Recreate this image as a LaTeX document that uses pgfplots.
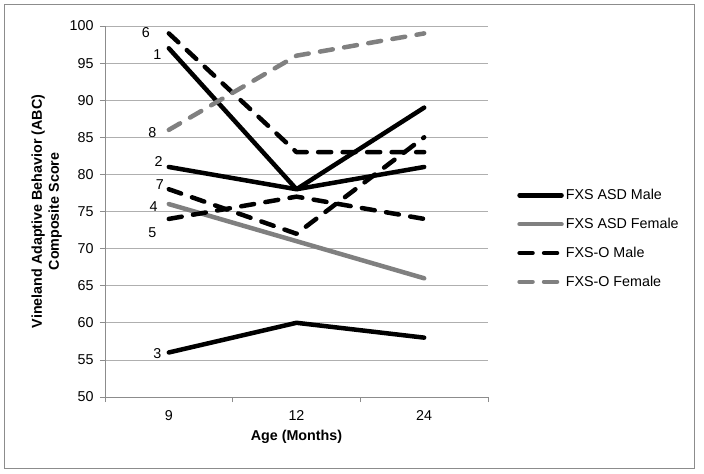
\documentclass[border=0pt]{standalone}
\usepackage{pgfplots}
\pgfplotsset{compat=1.18}
\usepackage{fontspec}
\setmainfont{Liberation Sans}
\definecolor{gridc}{RGB}{175,175,175}
\definecolor{axc}{RGB}{140,140,140}
\definecolor{lgray}{RGB}{128,128,128}
\newcommand{\fs}{\fontsize{14.3bp}{17bp}\selectfont}
\begin{document}
\begin{tikzpicture}
\useasboundingbox (-105bp,-77bp) rectangle (599bp,397bp);
\fill[white] (-105bp,-77bp) rectangle (599bp,397bp);
\draw[axc, line width=1bp] (-100bp,-71bp) rectangle (589bp,392bp);
\begin{axis}[
  at={(0,0)}, anchor=south west,
  width=383bp, height=371bp, scale only axis,
  xmin=0, xmax=3, ymin=50, ymax=100,
  axis x line=bottom, axis y line=left,
  axis line style={axc, line width=0.8bp, -},
  xtick={0.5,1.5,2.5}, xticklabels={9,12,24},
  minor xtick={0,1,2,3},
  ytick={50,55,...,100},
  ymajorgrids, grid style={gridc, line width=0.8bp},
  tick style={axc, line width=0.8bp},
  major x tick style={draw=none},
  tick align=outside,
  major tick length=5bp, minor tick length=5bp,
  /pgf/number format/assume math mode=true,
  tick label style={font=\fs},
  xticklabel style={yshift=-5bp},
  yticklabel style={xshift=-3bp},
  xlabel={Age (Months)},
  ylabel={Vineland Adaptive Behavior (ABC)\\Composite Score},
  xlabel style={font=\bfseries\fs, at={(axis description cs:0.5,-0.108)}, anchor=center},
  ylabel style={font=\bfseries\fs, align=center, at={(axis description cs:-0.152,0.5)}, anchor=center},
  legend style={at={(1.076,0.427)}, anchor=west, draw=none, fill=none, font=\fs, row sep=13bp, inner sep=0pt, nodes={inner sep=2bp}},
  legend image code/.code={\draw[#1] (0bp,0bp) -- (42bp,0bp);},
  legend cell align=left,
  clip=false,
]
\pgfplotsset{
  sb/.style={black, line width=4.5bp, line cap=round, line join=round},
  sg/.style={lgray, line width=4.5bp, line cap=round, line join=round},
  db/.style={black, line width=4.5bp, line cap=round, line join=round, dash pattern=on 13bp off 11.5bp},
  dg/.style={lgray, line width=4.5bp, line cap=round, line join=round, dash pattern=on 13bp off 11.5bp},
}
% FXS ASD Male
\addplot[sb] coordinates {(0.5,97) (1.5,78) (2.5,89)};
\addlegendentry{FXS ASD Male}
\addplot[sb, forget plot] coordinates {(0.5,81) (1.5,78) (2.5,81)};
\addplot[sb, forget plot] coordinates {(0.5,56) (1.5,60) (2.5,58)};
% FXS ASD Female
\addplot[sg] coordinates {(0.5,76) (1.5,71) (2.5,66)};
\addlegendentry{FXS ASD Female}
% FXS-O Male
\addplot[db] coordinates {(0.5,99) (1.5,83) (2.5,83)};
\addlegendentry{FXS-O Male}
\addplot[db, forget plot] coordinates {(0.5,78) (1.5,72) (2.5,85)};
\addplot[db, forget plot] coordinates {(0.5,74) (1.5,77) (2.5,74)};
% FXS-O Female
\addplot[dg] coordinates {(0.5,86) (1.5,96) (2.5,99)};
\addlegendentry{FXS-O Female}
% point labels
\node[font=\fs] at (axis cs:0.32,99.1) {6};
\node[font=\fs] at (axis cs:0.41,96.1) {1};
\node[font=\fs] at (axis cs:0.37,85.6) {8};
\node[font=\fs] at (axis cs:0.42,81.7) {2};
\node[font=\fs] at (axis cs:0.43,78.6) {7};
\node[font=\fs] at (axis cs:0.38,75.6) {4};
\node[font=\fs] at (axis cs:0.37,72.1) {5};
\node[font=\fs] at (axis cs:0.41,55.9) {3};
\end{axis}
\end{tikzpicture}
\end{document}
